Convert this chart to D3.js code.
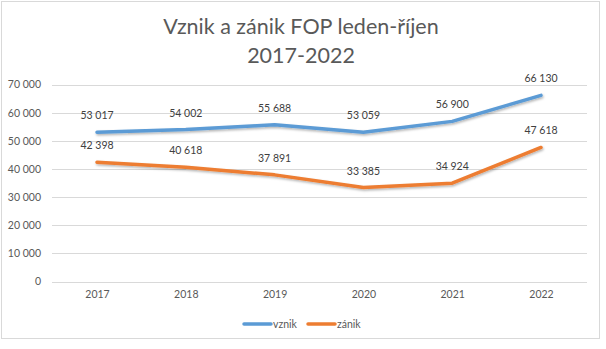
<!DOCTYPE html>
<html>
<head>
<meta charset="utf-8">
<script src="https://cdn.jsdelivr.net/npm/d3@7"></script>
<style>
  html, body { margin: 0; padding: 0; background: #fff; }
  svg { display: block; font-family: "Lato", "Open Sans", sans-serif; }
</style>
</head>
<body>
<svg id="chart" width="606" height="349"></svg>
<script>
// Years shown on the category axis
const years = ["2017", "2018", "2019", "2020", "2021", "2022"];
// Newly registered sole traders (January–October)
const vznik = [53017, 54002, 55688, 53059, 56900, 66130];
// Terminated sole traders (January–October)
const zanik = [42398, 40618, 37891, 33385, 34924, 47618];
// Value axis ticks
const yTicks = [0, 10000, 20000, 30000, 40000, 50000, 60000, 70000];

const series = [
  { name: "vznik", values: vznik, color: "#5B9BD5" },
  { name: "zánik", values: zanik, color: "#ED7D31" }
];

const svg = d3.select("#chart");
const fmt = v => d3.format(",")(v).replace(/,/g, " ");

// chart frame
svg.append("rect")
  .attr("x", 1.5).attr("y", 1.5)
  .attr("width", 598).attr("height", 337)
  .attr("fill", "#fff").attr("stroke", "#d9d9d9").attr("stroke-width", 1);

// title
const title = svg.append("text")
  .attr("text-anchor", "middle")
  .attr("fill", "#595959")
  .attr("font-size", 21.5);
title.append("tspan").attr("x", 301).attr("y", 34).text("Vznik a zánik FOP leden-říjen");
title.append("tspan").attr("x", 301).attr("y", 63).text("2017-2022");

const x = d3.scalePoint().domain(years).range([97, 541]);
const y = d3.scaleLinear().domain([0, 70000]).range([281.5, 84.5]);

// gridlines
svg.append("g")
  .selectAll("line")
  .data(yTicks)
  .join("line")
  .attr("x1", 52).attr("x2", 587)
  .attr("y1", d => Math.round(y(d)) + 0.5)
  .attr("y2", d => Math.round(y(d)) + 0.5)
  .attr("stroke", "#d9d9d9").attr("stroke-width", 1);

// y axis labels
const yAxis = d3.axisLeft(y).tickValues(yTicks).tickFormat(fmt).tickSize(0).tickPadding(0);
svg.append("g")
  .attr("transform", "translate(41,0)")
  .call(yAxis)
  .call(g => g.select(".domain").remove())
  .call(g => g.selectAll("text")
    .attr("fill", "#595959")
    .attr("font-size", 10.5)
    .attr("font-family", "Lato, 'Open Sans', sans-serif"));

// x axis labels
const xAxis = d3.axisBottom(x).tickSize(0).tickPadding(0);
svg.append("g")
  .attr("transform", "translate(0,291)")
  .call(xAxis)
  .call(g => g.select(".domain").remove())
  .call(g => g.selectAll("text")
    .attr("fill", "#595959")
    .attr("font-size", 10.5)
    .attr("font-family", "Lato, 'Open Sans', sans-serif"));

// soft shadow under the lines
const defs = svg.append("defs");
const f = defs.append("filter").attr("id", "shadow")
  .attr("x", "-5%").attr("y", "-20%").attr("width", "110%").attr("height", "140%");
f.append("feDropShadow").attr("dx", 0.8).attr("dy", 1.5)
  .attr("stdDeviation", 1.2).attr("flood-color", "#000").attr("flood-opacity", 0.3);

const line = d3.line()
  .x((d, i) => x(years[i]))
  .y(d => y(d));

series.forEach(s => {
  svg.append("path")
    .datum(s.values)
    .attr("d", line)
    .attr("fill", "none")
    .attr("stroke", s.color)
    .attr("stroke-width", 3.5)
    .attr("stroke-linecap", "round")
    .attr("stroke-linejoin", "round")
    .attr("filter", "url(#shadow)");

  svg.append("g")
    .selectAll("text")
    .data(s.values)
    .join("text")
    .attr("x", (d, i) => x(years[i]))
    .attr("y", d => y(d) - 13)
    .attr("text-anchor", "middle")
    .attr("fill", "#404040")
    .attr("font-size", 10.5)
    .text(fmt);
});

// legend
const legend = svg.append("g").attr("transform", "translate(243,324)");
const items = [
  { s: series[0], x: 0 },
  { s: series[1], x: 64 }
];
items.forEach(it => {
  legend.append("line")
    .attr("x1", it.x + 1).attr("x2", it.x + 28)
    .attr("y1", 0).attr("y2", 0)
    .attr("stroke", it.s.color).attr("stroke-width", 3.5)
    .attr("stroke-linecap", "round");
  legend.append("text")
    .attr("x", it.x + 30).attr("y", 3.5)
    .attr("fill", "#595959")
    .attr("font-size", 10.5)
    .text(it.s.name);
});
</script>
</body>
</html>
